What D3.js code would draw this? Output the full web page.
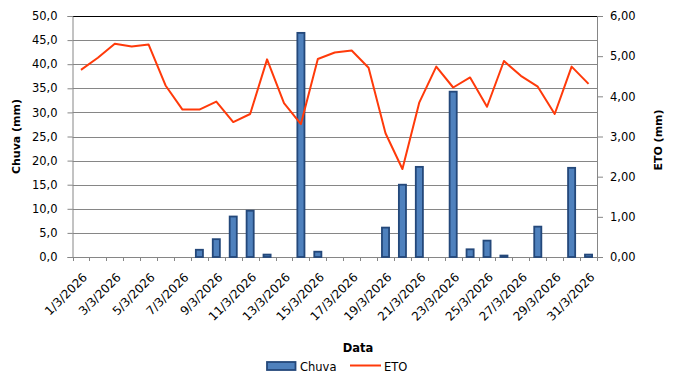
<!DOCTYPE html>
<html>
<head>
<meta charset="utf-8">
<script src="https://cdn.jsdelivr.net/npm/d3@7"></script>
<style>
html,body{margin:0;padding:0;background:#fff;}
svg{display:block;font-family:"DejaVu Sans",Verdana,sans-serif;}
</style>
</head>
<body>
<svg id="chart" width="700" height="386"></svg>
<script>
const dates = ["1/3/2026","2/3/2026","3/3/2026","4/3/2026","5/3/2026","6/3/2026","7/3/2026","8/3/2026","9/3/2026","10/3/2026",
"11/3/2026","12/3/2026","13/3/2026","14/3/2026","15/3/2026","16/3/2026","17/3/2026","18/3/2026","19/3/2026","20/3/2026",
"21/3/2026","22/3/2026","23/3/2026","24/3/2026","25/3/2026","26/3/2026","27/3/2026","28/3/2026","29/3/2026","30/3/2026","31/3/2026"];
const chuva = [0,0,0,0,0,0,0,1.5,3.7,8.4,9.6,0.5,0,46.5,1.1,0,0,0,6.1,15.0,18.7,0,34.3,1.6,3.4,0.3,0,6.3,0,18.5,0.5];
const eto = [4.66,4.96,5.31,5.24,5.29,4.27,3.67,3.67,3.87,3.36,3.56,4.92,3.83,3.31,4.93,5.09,5.14,4.71,3.08,2.19,3.85,4.74,4.22,4.47,3.74,4.88,4.51,4.24,3.56,4.74,4.31];
const leftTicks = [0,5,10,15,20,25,30,35,40,45,50];
const rightTicks = [0,1,2,3,4,5,6];
const xLabelDates = ["1/3/2026","3/3/2026","5/3/2026","7/3/2026","9/3/2026","11/3/2026","13/3/2026","15/3/2026","17/3/2026","19/3/2026","21/3/2026","23/3/2026","25/3/2026","27/3/2026","29/3/2026","31/3/2026"];

const svg = d3.select("#chart");
const L = 72.5, R = 597, T = 16, B = 257;
const x = d3.scaleBand().domain(dates).range([L, R]).padding(0);
const yL = d3.scaleLinear().domain([0, 50]).range([B, T]);
const yR = d3.scaleLinear().domain([0, 6]).range([B, T]);
const fmt1 = v => d3.format(".1f")(v).replace(".", ",");
const fmt2 = v => d3.format(".2f")(v).replace(".", ",");
const gridColor = "#868686";

// gridlines
svg.append("g").selectAll("line").data(leftTicks.filter(d => d > 0)).join("line")
  .attr("x1", L).attr("x2", R)
  .attr("y1", d => Math.round(yL(d)) + 0.5).attr("y2", d => Math.round(yL(d)) + 0.5)
  .attr("stroke", d => d === 50 ? "#000" : gridColor).attr("stroke-width", 1);

// left axis
const gL = svg.append("g").attr("transform", `translate(${L},0)`)
  .call(d3.axisLeft(yL).tickValues(leftTicks).tickFormat(fmt1).tickSize(5).tickPadding(10));
gL.selectAll("path,line").attr("stroke", gridColor);
gL.selectAll("text").attr("font-size", "11.5px").attr("fill", "#000").attr("font-family", "DejaVu Sans, Verdana, sans-serif");

// right axis
const gR = svg.append("g").attr("transform", `translate(${R},0)`)
  .call(d3.axisRight(yR).tickValues(rightTicks).tickFormat(fmt2).tickSize(6).tickPadding(7));
gR.selectAll("path,line").attr("stroke", gridColor);
gR.selectAll("text").attr("font-size", "11.5px").attr("fill", "#000").attr("font-family", "DejaVu Sans, Verdana, sans-serif");

// bottom axis line and ticks at category boundaries
const gB = svg.append("g");
gB.append("line").attr("x1", L).attr("x2", R).attr("y1", B + 0.5).attr("y2", B + 0.5).attr("stroke", gridColor);
const bounds = dates.map(d => x(d)).concat([R]);
gB.selectAll("line.tk").data(bounds).join("line").attr("class", "tk")
  .attr("x1", d => Math.round(d) + 0.5).attr("x2", d => Math.round(d) + 0.5)
  .attr("y1", B).attr("y2", B + 4).attr("stroke", gridColor);

// x labels
gB.selectAll("text.xl").data(xLabelDates).join("text").attr("class", "xl")
  .attr("transform", d => `translate(${x(d) + x.bandwidth() / 2 + 4},${B + 18}) rotate(-45)`)
  .attr("text-anchor", "end").attr("dy", "0.35em")
  .attr("font-size", "12px").attr("fill", "#000")
  .text(d => d);

// bars
const bw = x.bandwidth() * 0.42;
svg.append("g").selectAll("rect").data(dates.map((d, i) => ({d, v: chuva[i]})).filter(o => o.v > 0)).join("rect")
  .attr("x", o => x(o.d) + x.bandwidth() / 2 - bw / 2)
  .attr("y", o => yL(o.v))
  .attr("width", bw)
  .attr("height", o => B - yL(o.v))
  .attr("fill", "#4F81BD").attr("stroke", "#24487A").attr("stroke-width", 1.8);

// ETO line
const line = d3.line().x((v, i) => x(dates[i]) + x.bandwidth() / 2).y(v => yR(v));
svg.append("path").datum(eto).attr("d", line)
  .attr("fill", "none").attr("stroke", "#FF3A0A").attr("stroke-width", 2).attr("stroke-linejoin", "round");

// axis titles
svg.append("text").attr("transform", "translate(20,136.5) rotate(-90)")
  .attr("text-anchor", "middle").attr("font-size", "11px").attr("font-weight", "bold").text("Chuva (mm)");
svg.append("text").attr("transform", "translate(662,140) rotate(-90)")
  .attr("text-anchor", "middle").attr("font-size", "11px").attr("font-weight", "bold").text("ETO (mm)");
svg.append("text").attr("x", 358).attr("y", 352)
  .attr("text-anchor", "middle").attr("font-size", "11.5px").attr("font-weight", "bold").text("Data");

// legend
const lg = svg.append("g");
lg.append("rect").attr("x", 267).attr("y", 362).attr("width", 28.5).attr("height", 8)
  .attr("fill", "#4F81BD").attr("stroke", "#24487A").attr("stroke-width", 1.8);
lg.append("text").attr("x", 300).attr("y", 370.5).attr("font-size", "11.5px").text("Chuva");
lg.append("line").attr("x1", 350).attr("x2", 381).attr("y1", 365.5).attr("y2", 365.5)
  .attr("stroke", "#FF3A0A").attr("stroke-width", 2);
lg.append("text").attr("x", 384).attr("y", 370.5).attr("font-size", "11.5px").text("ETO");
</script>
</body>
</html>
